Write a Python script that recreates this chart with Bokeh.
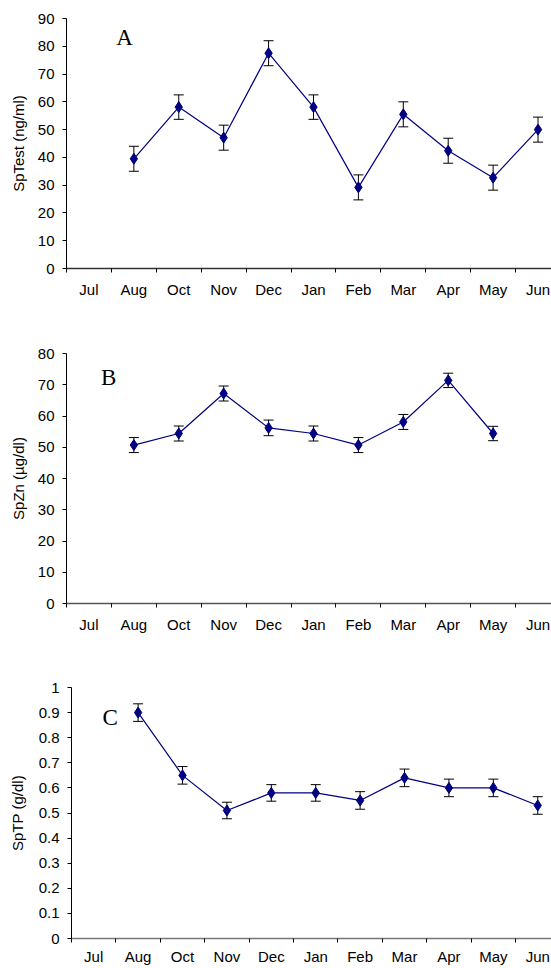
from bokeh.plotting import figure
from bokeh.models import Range1d, FixedTicker, Whisker, TeeHead, ColumnDataSource, Label
from bokeh.layouts import column
from bokeh.embed import file_html
from bokeh.resources import INLINE
import math

NaN = float("nan")

months = ["Jul", "Aug", "Oct", "Nov", "Dec", "Jan", "Feb", "Mar", "Apr", "May", "Jun"]

sptest = [NaN, 39.5, 58.1, 47.1, 77.5, 58.1, 29.2, 55.5, 42.4, 32.7, 50.0]
sptest_se = [NaN, 4.5, 4.4, 4.5, 4.5, 4.4, 4.5, 4.5, 4.5, 4.5, 4.5]

spzn = [NaN, 50.7, 54.4, 67.2, 56.2, 54.4, 50.7, 58.1, 71.4, 54.4, NaN]
spzn_se = [NaN, 2.4, 2.4, 2.4, 2.5, 2.4, 2.4, 2.4, 2.3, 2.3, NaN]

sptp = [NaN, 0.90, 0.65, 0.51, 0.58, 0.58, 0.55, 0.64, 0.60, 0.60, 0.53]
sptp_se = [NaN, 0.035, 0.035, 0.033, 0.033, 0.033, 0.035, 0.035, 0.035, 0.035, 0.035]

ticks_A = [0, 10, 20, 30, 40, 50, 60, 70, 80, 90]
ticks_B = [0, 10, 20, 30, 40, 50, 60, 70, 80]
ticks_C = [0, 0.1, 0.2, 0.3, 0.4, 0.5, 0.6, 0.7, 0.8, 0.9, 1]

SANS = "Liberation Sans"
SERIF = "Liberation Serif"
NAVY = "#000080"
FS = "15px"
W = 551


def panel(values, errs, ymax, yticks, ylabel, letter, letter_xy, height,
          b_left, b_top, b_bottom, xend, xaxis_color, xstand, ylab_stand):
    p = figure(width=W, height=height, output_backend="svg", toolbar_location=None,
               title=None, x_range=Range1d(0, xend), y_range=Range1d(0, ymax),
               min_border_left=b_left, min_border_right=0,
               min_border_top=b_top, min_border_bottom=b_bottom,
               width_policy="fixed", height_policy="fixed", frame_align=False)
    p.outline_line_color = None
    p.xgrid.visible = False
    p.ygrid.visible = False
    p.background_fill_color = "white"
    p.border_fill_color = "white"

    xs, ys, up, lo = [], [], [], []
    for i, (v, e) in enumerate(zip(values, errs)):
        if not math.isnan(v):
            xs.append(i + 0.5)
            ys.append(v)
            up.append(v + e)
            lo.append(v - e)
    src = ColumnDataSource(dict(x=xs, y=ys, upper=up, lower=lo))

    w = Whisker(source=src, base="x", upper="upper", lower="lower",
                line_color="black", line_width=1,
                upper_head=TeeHead(size=10, line_color="black", line_width=1),
                lower_head=TeeHead(size=10, line_color="black", line_width=1))
    p.add_layout(w)
    p.line("x", "y", source=src, line_color=NAVY, line_width=1.2)
    p.scatter("x", "y", source=src, marker="diamond", size=11,
              fill_color=NAVY, line_color=NAVY)

    # y axis
    ya = p.yaxis[0]
    ya.ticker = FixedTicker(ticks=yticks, minor_ticks=[])
    ya.major_label_overrides = {t: f"{t:g}" for t in yticks}
    ya.major_tick_out = 4
    ya.major_tick_in = 0
    ya.minor_tick_out = 0
    ya.minor_tick_in = 0
    ya.major_label_standoff = 8
    ya.axis_line_color = "black"
    ya.major_tick_line_color = "black"
    ya.major_label_text_font = SANS
    ya.major_label_text_font_size = FS
    ya.major_label_text_color = "black"
    ya.axis_label = ylabel
    ya.axis_label_text_font = SANS
    ya.axis_label_text_font_size = FS
    ya.axis_label_text_font_style = "normal"
    ya.axis_label_text_color = "black"
    ya.axis_label_standoff = ylab_stand

    # x axis: labels centred between tick marks
    xa = p.xaxis[0]
    centers = [i + 0.5 for i in range(len(months))]
    bounds = [float(i) for i in range(len(months))]
    xa.ticker = FixedTicker(ticks=centers, minor_ticks=bounds)
    xa.major_label_overrides = {c: m for c, m in zip(centers, months)}
    xa.major_tick_out = 0
    xa.major_tick_in = 0
    xa.minor_tick_out = 4
    xa.minor_tick_in = 0
    xa.minor_tick_line_color = "black"
    xa.axis_line_color = xaxis_color
    xa.axis_line_width = 1.3
    xa.major_label_standoff = xstand
    xa.major_label_text_font = SANS
    xa.major_label_text_font_size = FS
    xa.major_label_text_color = "black"

    p.add_layout(Label(x=letter_xy[0], y=letter_xy[1], text=letter,
                       text_font=SERIF, text_font_size="23px", text_color="black",
                       text_align="center", text_baseline="middle"))
    return p


pA = panel(sptest, sptest_se, 90, ticks_A, "SpTest (ng/ml)", "A", (1.29, 83.1),
           308, 66, 18, 40, 10.80, "#333333", 8, 8)
pB = panel(spzn, spzn_se, 80, ticks_B, "SpZn (µg/dl)", "B", (0.94, 72.2),
           335, 66, 45, 40, 10.80, "#555555", 8, 8)
pC = panel(sptp, sptp_se, 1, ticks_C, "SpTP (g/dl)", "C", (0.87, 0.88),
           325, 71, 44, 30, 10.81, "#777777", 5, 10)

layout = column(pA, pB, pC, spacing=0, width=W, height=968,
                width_policy="fixed", height_policy="fixed")
open("out.html", "w").write(file_html(layout, INLINE))
